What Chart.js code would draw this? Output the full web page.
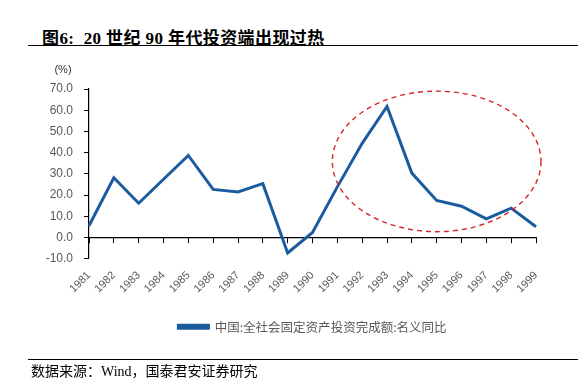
<!DOCTYPE html>
<html>
<head>
<meta charset="utf-8">
<script src="https://cdn.jsdelivr.net/npm/chart.js@4.4.1/dist/chart.umd.min.js"></script>
<style>
    body { margin: 0; width: 588px; height: 387px; background: #fff; position: relative; overflow: hidden; }
    #wrap { position: absolute; left: 0; top: 0; width: 588px; height: 387px; }
    .titulo { position: absolute; left: 42px; top: 24px; font: bold 17px "Liberation Serif", "Noto Sans CJK SC", serif; letter-spacing: 0.4px; color: #000; white-space: pre; }
    .regla { position: absolute; left: 28px; width: 550px; height: 0; border-top: 1.5px solid #000; }
    .fuente { position: absolute; left: 31px; top: 360px; font: 14px "Liberation Serif", "Noto Sans CJK SC", serif; color: #000; white-space: pre; }
</style>
</head>
<body>
<div class="titulo">图6:  20 世纪 90 年代投资端出现过热</div>
<div class="regla" style="top:45px"></div>
<div id="wrap"><canvas id="inversionChart" width="588" height="387"></canvas></div>
<div class="regla" style="top:359px"></div>
<div class="fuente">数据来源：Wind，国泰君安证券研究</div>

<script>
// Datos
const anios = ['1981','1982','1983','1984','1985','1986','1987','1988','1989','1990',
               '1991','1992','1993','1994','1995','1996','1997','1998','1999'];
const crecimientoInversion = [5.6, 28.2, 16.2, 27.5, 38.7, 22.7, 21.5, 25.4, -7.2, 2.4,
                              23.9, 44.4, 61.8, 30.4, 17.5, 14.8, 8.8, 13.9, 5.1];
const etiquetaSerie = '中国:全社会固定资产投资完成额:名义同比';
const ticksY = [-10, 0, 10, 20, 30, 40, 50, 60, 70];

// Elipse de la zona de sobrecalentamiento (en unidades de datos)
const elipseCentroX = 14.0;   // indice de categoria (1995)
const elipseRadioX = 4.2;     // en categorias
const elipseCentroY = 35.9;
const elipseRadioY = 33.1;

const azul = '#1B5C9E';
const gris = '#595959';

// Plugin para dibujar la elipse punteada
const pluginElipse = {
    id: 'elipse',
    afterDatasetsDraw(chart) {
        const x = chart.scales.x, y = chart.scales.y;
        const cx = x.getPixelForValue(elipseCentroX);
        const rx = x.getPixelForValue(elipseCentroX + elipseRadioX) - cx;
        const cy = y.getPixelForValue(elipseCentroY);
        const ry = cy - y.getPixelForValue(elipseCentroY + elipseRadioY);
        const ctx = chart.ctx;
        ctx.save();
        ctx.strokeStyle = '#D7262B';
        ctx.lineWidth = 1.4;
        ctx.setLineDash([5, 4]);
        ctx.beginPath();
        ctx.ellipse(cx, cy, rx, ry, 0, 0, Math.PI * 2);
        ctx.stroke();
        ctx.restore();
    }
};

// Plugin para la unidad (%)
const pluginUnidad = {
    id: 'unidad',
    afterDraw(chart) {
        const ctx = chart.ctx;
        ctx.save();
        ctx.fillStyle = '#333';
        ctx.font = '11px "Liberation Sans", sans-serif';
        ctx.textAlign = 'center';
        ctx.textBaseline = 'middle';
        ctx.fillText('(%)', chart.chartArea.left - 26, chart.chartArea.top - 19);
        ctx.restore();
    }
};

const ctx = document.getElementById('inversionChart').getContext('2d');
const inversionChart = new Chart(ctx, {
    type: 'line',
    data: {
        labels: anios,
        datasets: [{
            label: etiquetaSerie,
            data: crecimientoInversion,
            borderColor: azul,
            backgroundColor: azul,
            borderWidth: 3,
            pointRadius: 0,
            tension: 0,
            xAxisID: 'x',
            yAxisID: 'y'
        }]
    },
    options: {
        responsive: false,
        animation: false,
        layout: {
            padding: { top: 89, right: 52, bottom: 44, left: 0 }
        },
        plugins: {
            legend: {
                position: 'bottom',
                fullSize: false,
                labels: {
                    boxWidth: 30,
                    boxHeight: 3,
                    color: gris,
                    padding: 8,
                    font: { size: 12.5, family: '"Noto Sans CJK SC", sans-serif' }
                }
            },
            tooltip: { enabled: false }
        },
        scales: {
            x: {
                type: 'category',
                position: { y: 0 },
                offset: false,
                grid: {
                    drawOnChartArea: false,
                    drawTicks: true,
                    tickLength: 5,
                    color: '#000'
                },
                border: { display: true, color: '#000', width: 1.2 },
                ticks: { display: false }
            },
            x2: {
                type: 'category',
                labels: anios,
                position: 'bottom',
                offset: false,
                grid: { display: false },
                border: { display: false },
                afterFit(scale) {
                    scale.height += 15;
                },
                ticks: {
                    color: gris,
                    autoSkip: false,
                    minRotation: 45,
                    maxRotation: 45,
                    padding: 2,
                    font: { size: 11, family: '"Liberation Sans", sans-serif' }
                }
            },
            y: {
                min: -10,
                max: 70,
                afterBuildTicks(scale) {
                    scale.ticks = ticksY.map(v => ({ value: v }));
                },
                afterFit(scale) {
                    scale.width = 89;
                },
                grid: {
                    drawOnChartArea: false,
                    drawTicks: true,
                    tickLength: 5,
                    color: '#000'
                },
                border: { display: true, color: '#000', width: 1.2 },
                ticks: {
                    color: gris,
                    padding: 11,
                    font: { size: 12, family: '"Liberation Sans", sans-serif' },
                    callback: function(value) {
                        return value.toFixed(1);
                    }
                }
            }
        }
    },
    plugins: [pluginElipse, pluginUnidad]
});
</script>
</body>
</html>
